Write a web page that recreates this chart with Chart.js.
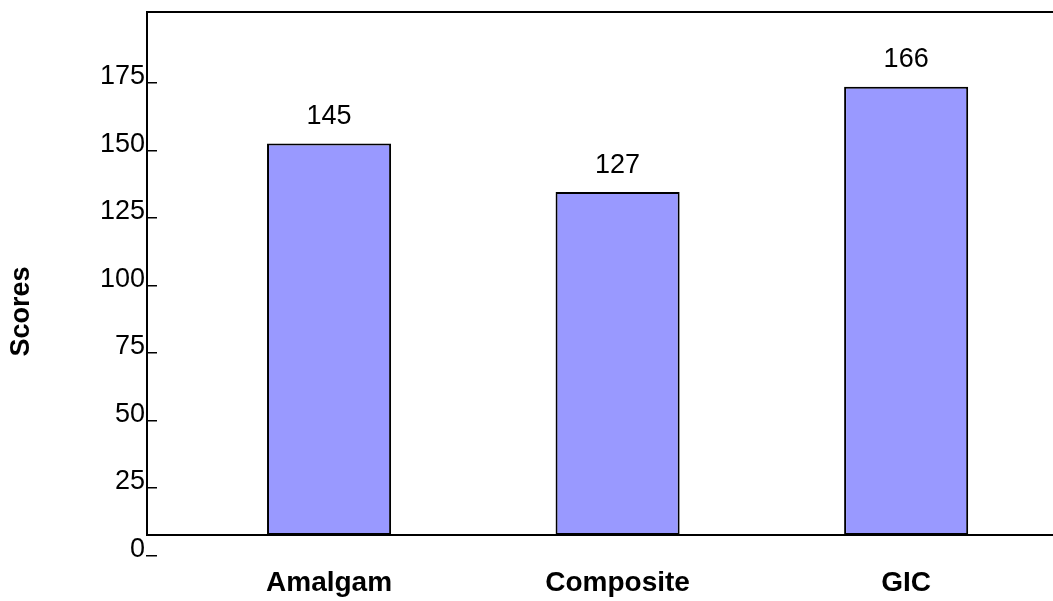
<!DOCTYPE html>
<html>
<head>
<meta charset="utf-8">
<script src="https://cdn.jsdelivr.net/npm/chart.js@4.4.1/dist/chart.umd.min.js"></script>
<style>
html, body { margin: 0; padding: 0; background: #fff; }
#wrap { width: 1053px; height: 601px; }
</style>
</head>
<body>
<div id="wrap"><canvas id="myChart"></canvas></div>
<script>
var categories = ['Amalgam', 'Composite', 'GIC'];
var scores = [145, 127, 166];
var yTicks = [0, 25, 50, 75, 100, 125, 150, 175];
var yTitle = 'Scores';

var FONT = '"Liberation Sans", Arial, sans-serif';

// numbers above the bars + the rotated axis title
var valueLabels = {
    id: 'valueLabels',
    afterDatasetsDraw: function(chart) {
        var ctx = chart.ctx;
        var meta = chart.getDatasetMeta(0);
        ctx.save();
        ctx.font = '27px ' + FONT;
        ctx.fillStyle = '#000';
        ctx.textAlign = 'center';
        ctx.textBaseline = 'middle';
        meta.data.forEach(function(bar, i) {
            ctx.fillText(String(scores[i]), bar.x, bar.y - 27);
        });
        // y title, sits a bit below the middle of the axis like the original
        var area = chart.chartArea;
        ctx.translate(22, (area.top + area.bottom) / 2 + 38);
        ctx.rotate(-Math.PI / 2);
        ctx.font = 'bold 27px ' + FONT;
        ctx.fillText(yTitle, 0, 0);
        ctx.restore();
    }
};

var ctx = document.getElementById('myChart');
var chart = new Chart(ctx, {
    type: 'bar',
    data: {
        datasets: [{
            label: yTitle,
            yAxisID: 'yBars',
            data: scores.map(function(v, i) { return {x: i, y: v}; }),
            backgroundColor: '#9999ff',
            borderColor: '#000',
            borderWidth: 2,
            borderSkipped: false,
            barPercentage: 0.43,
            categoryPercentage: 1
        }]
    },
    options: {
        responsive: true,
        maintainAspectRatio: false,
        animation: false,
        layout: { padding: { top: 12, left: 0, right: 0, bottom: 0 } },
        plugins: {
            legend: { display: false },
            tooltip: { enabled: false }
        },
        scales: {
            x: {
                type: 'linear',
                position: 'bottom',
                offset: false,
                min: -0.631,
                max: 2.509,
                afterBuildTicks: function(scale) {
                    scale.ticks = categories.map(function(c, i) { return {value: i}; });
                },
                afterFit: function(scale) {
                    scale.height = 66;
                    scale.paddingLeft = 0;
                    scale.paddingRight = 0;
                },
                grid: { display: false, drawTicks: false },
                border: { display: true, color: '#000', width: 2 },
                ticks: {
                    autoSkip: false,
                    maxRotation: 0,
                    padding: 31,
                    color: '#000',
                    font: { family: FONT, size: 28, weight: 'bold' },
                    callback: function(value, index) { return categories[index]; }
                }
            },
            xTop: {
                type: 'linear',
                position: 'top',
                afterFit: function(scale) {
                    scale.height = 0;
                    scale.paddingLeft = 0;
                    scale.paddingRight = 0;
                },
                grid: { display: false, drawTicks: false },
                border: { display: true, color: '#000', width: 2 },
                ticks: { display: false }
            },
            // the bars are measured on this one
            yBars: {
                type: 'linear',
                position: 'left',
                display: false,
                min: 0,
                max: 193.7
            },
            // printed scale; in the original it sits a few units low against the bars
            y: {
                type: 'linear',
                position: 'left',
                min: 7.6,
                max: 201.3,
                afterBuildTicks: function(scale) {
                    scale.ticks = yTicks.map(function(v) { return {value: v}; });
                },
                afterFit: function(scale) {
                    scale.width = 147;
                    scale.paddingTop = 0;
                    scale.paddingBottom = 0;
                },
                grid: {
                    drawOnChartArea: false,
                    color: '#000',
                    lineWidth: 1.5,
                    tickLength: -10
                },
                border: { display: true, color: '#000', width: 2 },
                ticks: {
                    padding: 12,
                    labelOffset: -6,
                    color: '#000',
                    font: { family: FONT, size: 27 }
                },
                title: { display: false }
            }
        }
    },
    plugins: [valueLabels]
});
</script>
</body>
</html>
